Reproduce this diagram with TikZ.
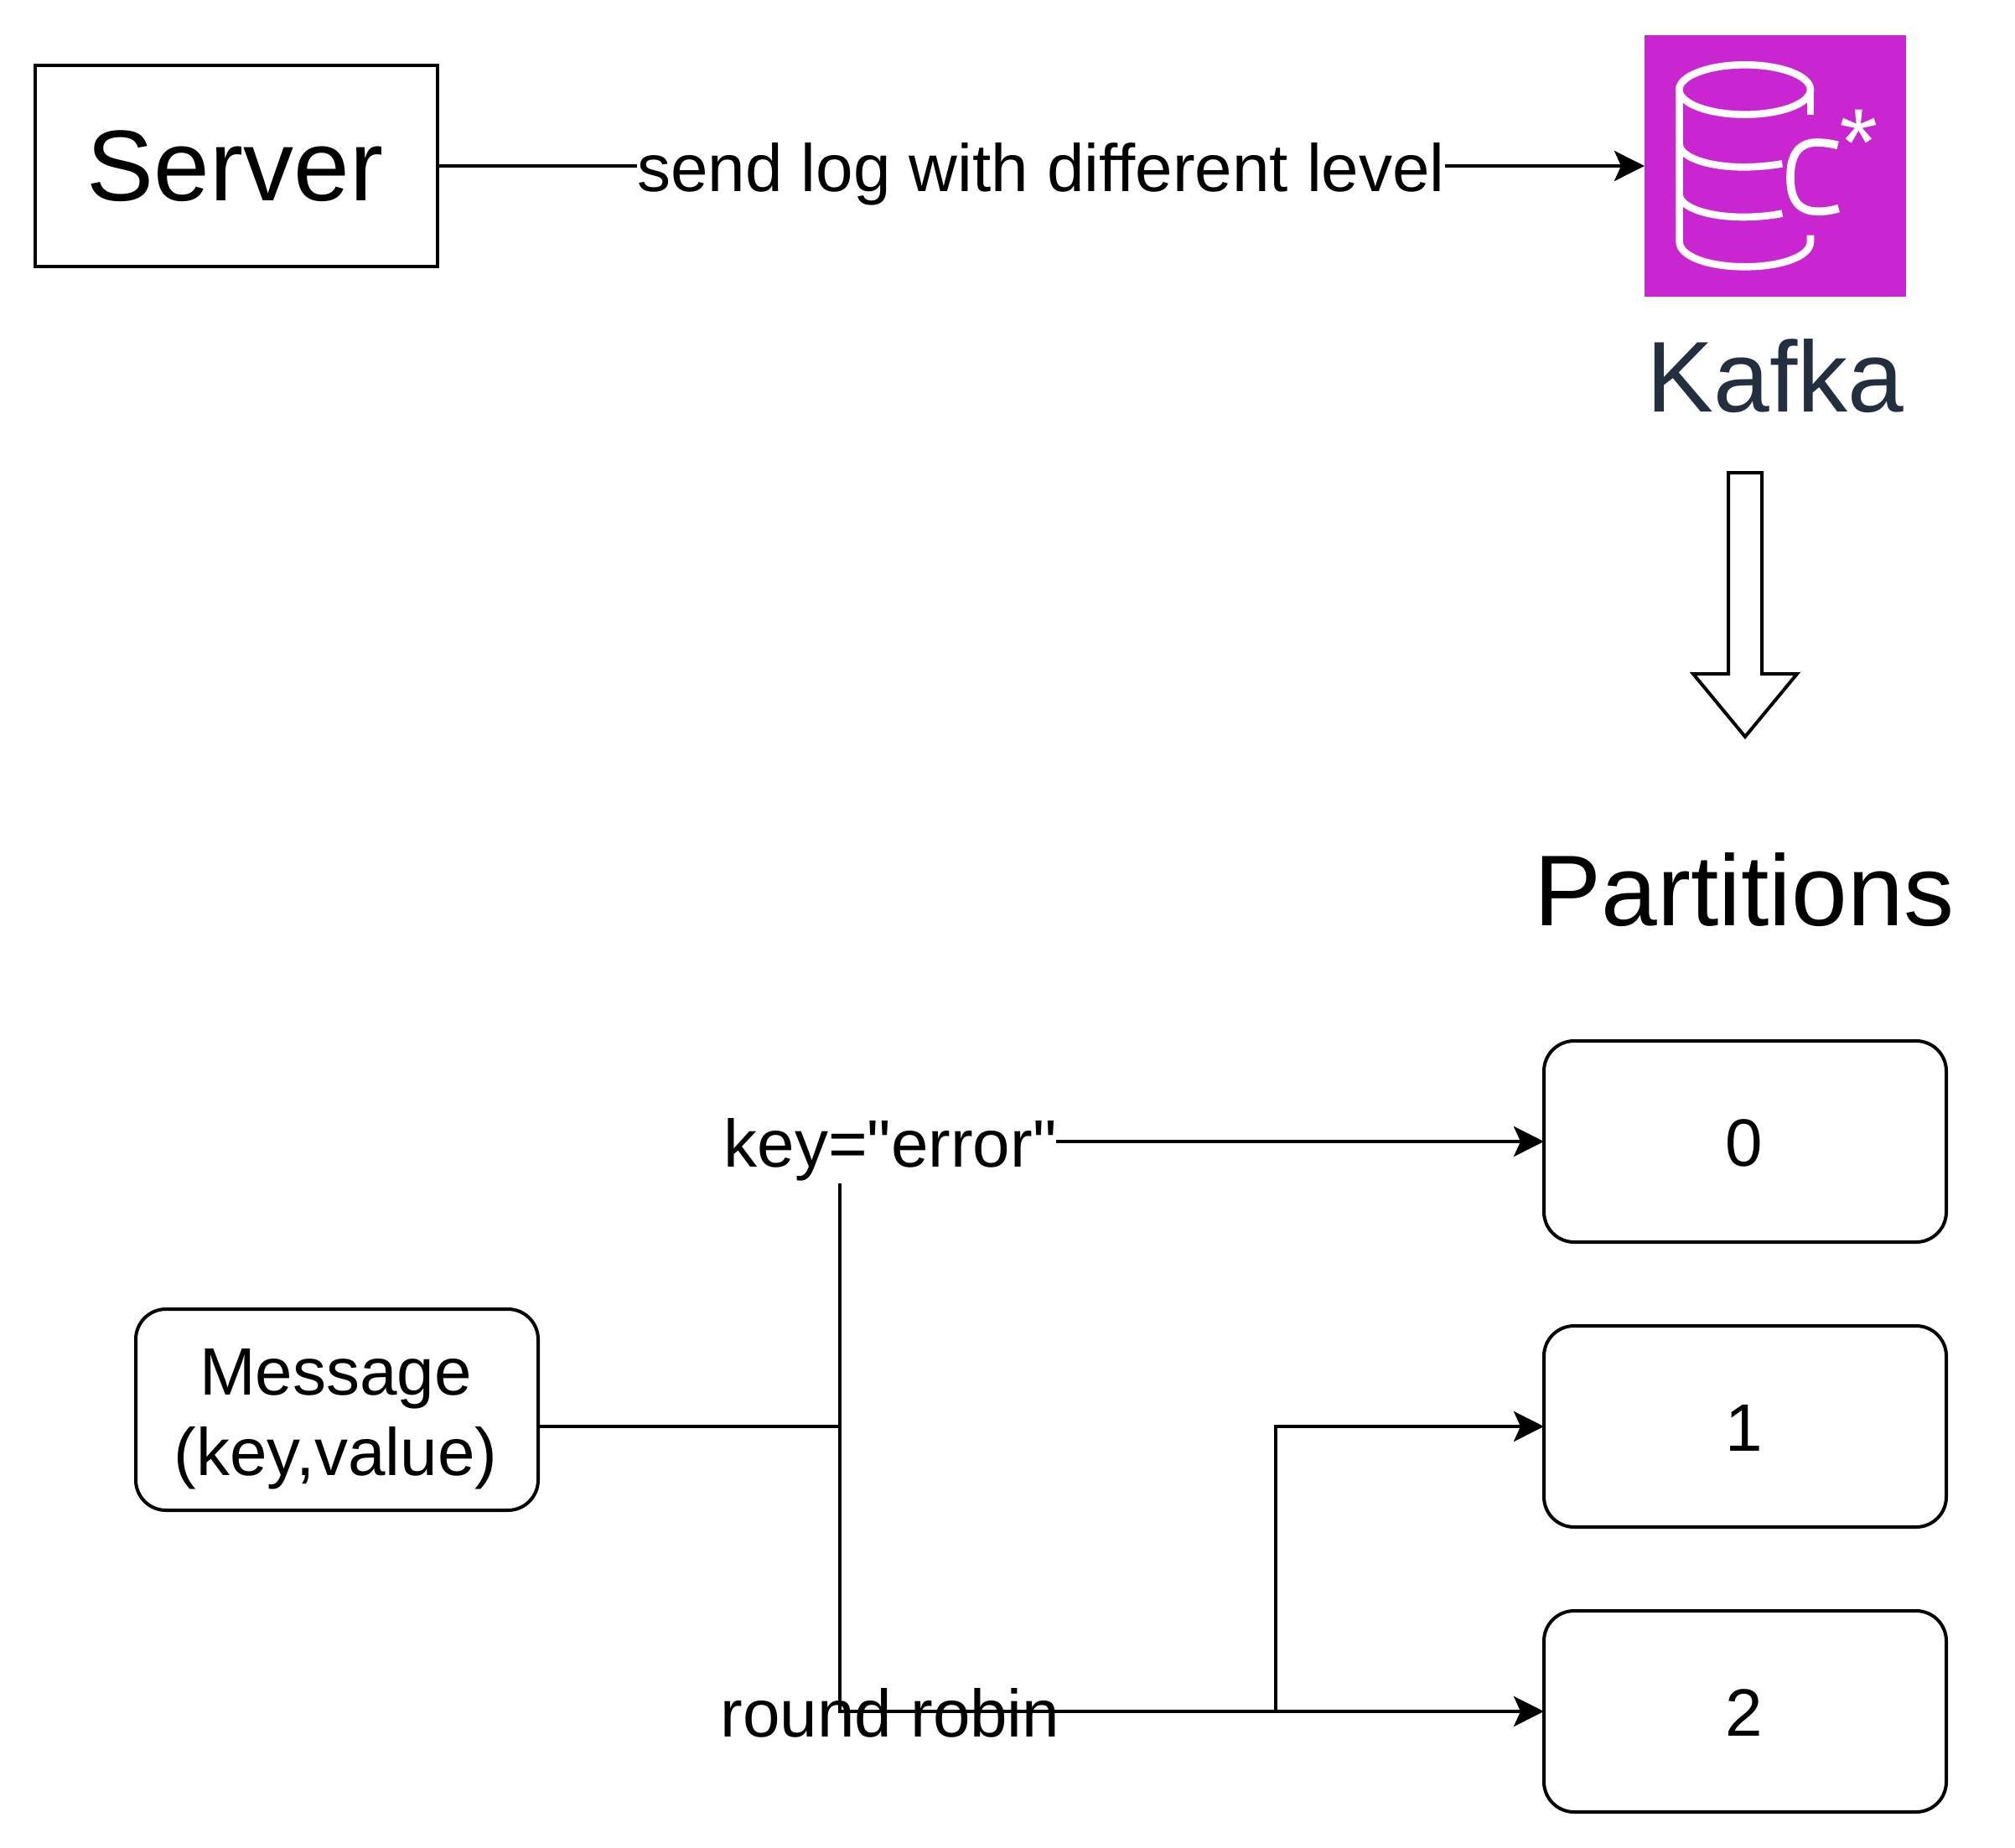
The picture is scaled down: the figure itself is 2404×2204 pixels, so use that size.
\documentclass[tikz,border=0pt]{standalone}
\usepackage{fontspec}
\setmainfont{Liberation Sans}
\newfontfamily\rawfont{Liberation Sans}
\usetikzlibrary{arrows.meta}
\definecolor{kafkapurple}{HTML}{C925D1}
\definecolor{kafkatext}{HTML}{232F3E}
\tikzset{
	box/.style={draw, line width=4pt, minimum width=480pt, minimum height=240pt, inner sep=0pt, outer sep=0pt, align=center},
	partition/.style={box, rounded corners=36pt, font=\fontsize{80}{96}\selectfont},
	digit/.style={partition, text height=58pt, text depth=0pt},
	label80/.style={inner sep=0pt, outer sep=0pt, text height=76pt, text depth=12pt, font=\fontsize{80}{96}\selectfont},
	title120/.style={inner sep=0pt, outer sep=0pt, font=\fontsize{120}{144}\selectfont},
	conn/.style={line width=4pt},
	arrowconn/.style={conn, -{Stealth[length=36pt, width=36pt, inset=8pt]}},
	icon/.style={white, line width=8.6pt}
}
\begin{document}
\begin{tikzpicture}[x=1pt, y=-1pt]
	\useasboundingbox (0,0) rectangle (2404,2204);

	% Server y Kafka
	\node[box, font=\fontsize{120}{144}\selectfont, text depth=0pt] (server) at (282,198) {\hspace{-3pt}Server};
	\node[fill=kafkapurple, minimum size=312pt, inner sep=0pt, outer sep=0pt] (kafka) at (2118,198) {};
	\node[title120, text=kafkatext] (kafkalabel) at (2118,449) {Kafka};
	\node[label80] (sendlabel) at (1242,196) {send log with different level};
	\coordinate (sendleft) at (sendlabel.west |- kafka);
	\coordinate (sendright) at (sendlabel.east |- kafka);
	\draw[conn] (server) -- (sendleft);
	\draw[arrowconn] (sendright) -- (kafka);

	% Icono de Kafka
	\begin{scope}[shift={(1940,20)}, x=0.3333pt, y=-0.3333pt]
		\draw[icon] (425,261) ellipse (235 and 89);
		\draw[icon] (660,350) -- (660,261);
		\draw[icon] (660,782) -- (660,805) .. controls (660,860) and (550,895) .. (425,895) .. controls (300,895) and (191,860) .. (191,805) -- (191,261);
		\draw[icon] (191,455) .. controls (191,505) and (300,538) .. (420,538) .. controls (470,538) and (520,533) .. (559,526);
		\draw[icon] (191,635) .. controls (191,685) and (300,717) .. (420,717) .. controls (470,717) and (520,712) .. (559,704);
		\draw[icon, line width=9.6pt] (758,460) .. controls (725,452) and (700,450) .. (685,450) .. controls (620,450) and (588,490) .. (588,575) .. controls (588,660) and (620,697) .. (690,697) .. controls (715,697) and (740,692) .. (761,686);
		\foreach \angle in {0,72,144,216,288}
			\fill[white, rotate around={\angle:(832,394)}] (825,394) -- (819,332) -- (845,332) -- (839,394) -- cycle;
	\end{scope}

	% Flecha hueca
	\draw[line width=4pt] (2062,564) -- (2102,564) -- (2102,804) -- (2144,804) -- (2082,879) -- (2020,804) -- (2062,804) -- cycle;

	% Particiones
	\node[title120] (partitions) at (2081,1062) {Partitions};
	\node[digit] (part0) at (2082,1362) {\hspace{-3pt}0};
	\node[digit] (part1) at (2082,1702) {\hspace{-3pt}1};
	\node[digit] (part2) at (2082,2042) {\hspace{-3pt}2};

	% Mensaje
	\node[partition] (message) at (402,1682) {\hspace{-3pt}\rule{0pt}{78pt}Message\\\hspace{-3pt}(key,value)};

	% Etiquetas
	\node[label80, text height=73pt] (keylabel) at (1062,1362) {\rawfont key="error"};
	\node[label80] (roundlabel) at (1062,2040) {round robin};

	% Conexiones
	\coordinate (forktop) at (1002,1412);
	\coordinate (forkmid) at (1002,1702);
	\coordinate (forkbottom) at (1002,2042);
	\coordinate (branchbottom) at (1522,2042);
	\coordinate (branchtop) at (1522,1702);
	\draw[conn] (message.east |- forkmid) -- (forkmid);
	\draw[arrowconn] (forktop) -- (forkbottom) -- (part2);
	\draw[arrowconn] (branchbottom) -- (branchtop) -- (part1);
	\draw[arrowconn] (keylabel) -- (part0);
\end{tikzpicture}
\end{document}
